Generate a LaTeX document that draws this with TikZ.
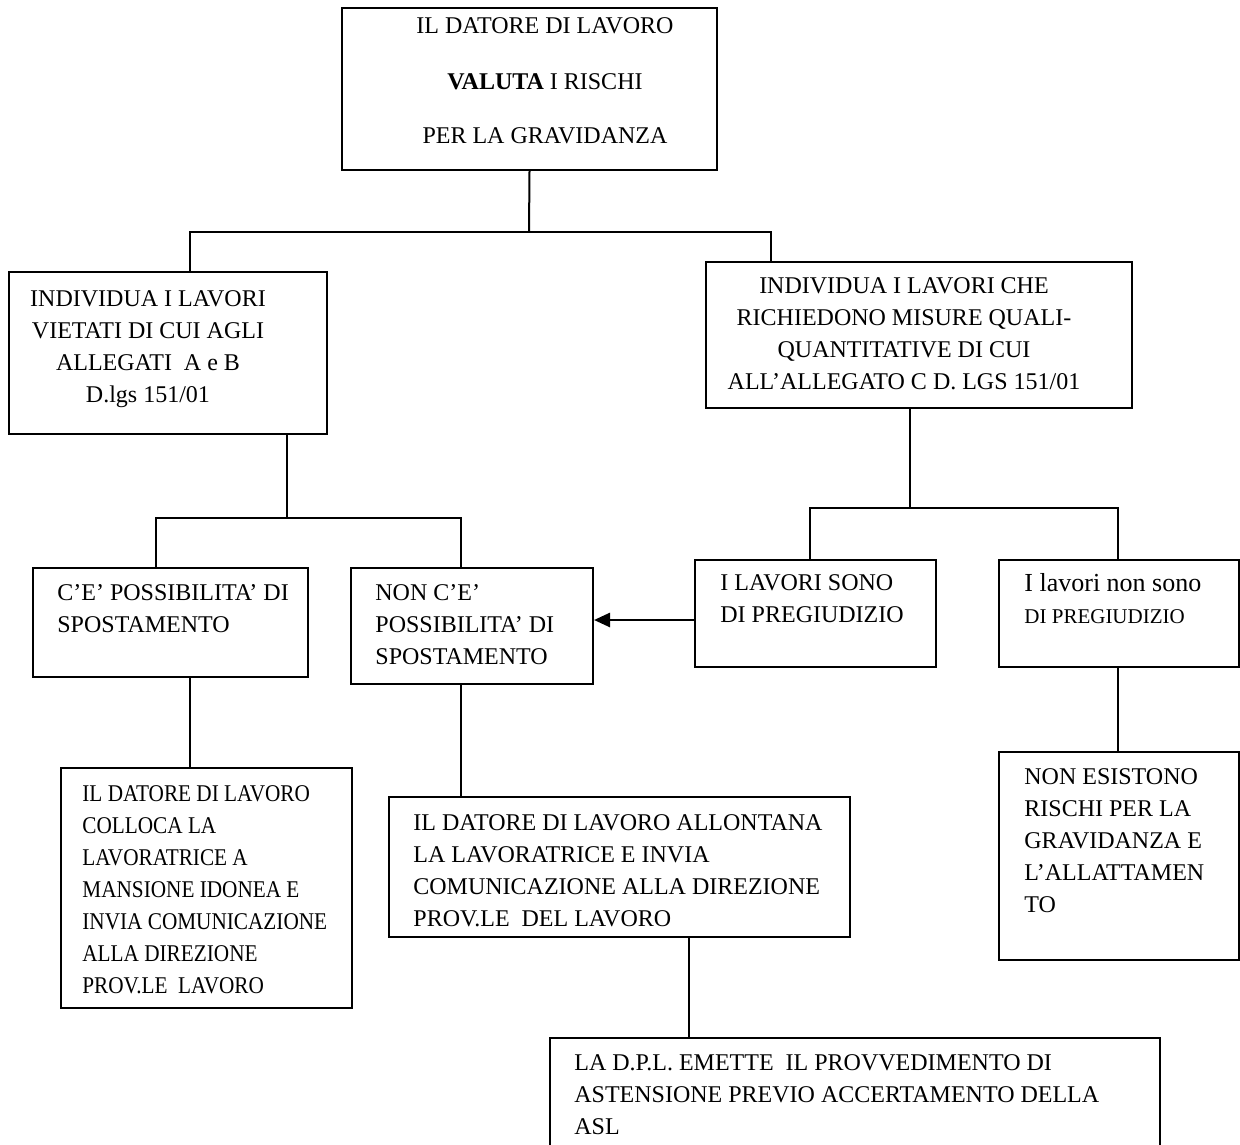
\documentclass[tikz,border=0pt]{standalone}
\usepackage{fontspec}
\setmainfont{Liberation Serif}
\newfontfamily\narrowserif{Liberation Serif}[FakeStretch=0.885]
\usepackage{tikz}
\usetikzlibrary{arrows.meta, positioning, fit}

\begin{document}
\begin{tikzpicture}[
    x=0.5pt, y=-0.5pt,
    box/.style={rectangle, draw, line width=1pt, inner sep=0pt},
    txt/.style={inner sep=0pt, align=left, anchor=north west, font=\fontsize{12}{16}\selectfont},
    ctxt/.style={txt, align=center, anchor=north},
    link/.style={line width=1pt},
    push/.style={line width=1.3pt, -{Triangle[length=8pt, width=7pt]}}
]
    \useasboundingbox (0,0) rectangle (1240,1144);

    % Valutazione dei rischi
    \node[box, fit={(342,8) (717,170)}] (valuta) {};
    \node[ctxt] (valutatxt) at (545,17) {IL DATORE DI LAVORO\\[12pt] \textbf{VALUTA} I RISCHI\\[11pt] PER LA GRAVIDANZA};

    % Lavori vietati
    \node[box, fit={(9,272) (327,434)}] (vietati) {};
    \node[ctxt] (vietatitxt) at (148,290) {INDIVIDUA I LAVORI\\ VIETATI DI CUI AGLI\\ ALLEGATI~ A e B\\ D.lgs 151/01};

    % Lavori con misure
    \node[box, fit={(706,262) (1132,408)}] (misure) {};
    \node[ctxt] (misuretxt) at (904,277) {INDIVIDUA I LAVORI CHE\\ RICHIEDONO MISURE QUALI-\\ QUANTITATIVE DI CUI\\ ALL'ALLEGATO C D. LGS 151/01};

    % Spostamento possibile
    \node[box, fit={(33,568) (308,677)}] (sposta) {};
    \node[txt] (spostatxt) at (57,584) {C'E' POSSIBILITA' DI\\ SPOSTAMENTO};

    % Spostamento non possibile
    \node[box, fit={(351,568) (593,684)}] (nosposta) {};
    \node[txt] (nospostatxt) at (375,584) {NON C'E'\\ POSSIBILITA' DI\\ SPOSTAMENTO};

    % Lavori di pregiudizio
    \node[box, fit={(695,560) (936,667)}] (pregiudizio) {};
    \node[txt] (pregiudiziotxt) at (720,574) {I LAVORI SONO\\ DI PREGIUDIZIO};

    % Lavori non di pregiudizio
    \node[box, fit={(999,560) (1239,667)}] (nopregiudizio) {};
    \node[txt] (nopregiudiziotxt) at (1024,573) {{\fontsize{13}{16}\selectfont I lavori non sono}\\ {\fontsize{10.5}{16}\selectfont DI PREGIUDIZIO}};

    % Mansione idonea
    \node[box, fit={(61,768) (352,1008)}] (colloca) {};
    \node[txt, font=\fontsize{12}{16}\narrowserif] (collocatxt) at (82,785) {IL DATORE DI LAVORO\\ COLLOCA LA\\ LAVORATRICE A\\ MANSIONE IDONEA E\\ INVIA COMUNICAZIONE\\ ALLA DIREZIONE\\ PROV.LE~ LAVORO};

    % Allontanamento
    \node[box, fit={(389,797) (850,937)}] (allontana) {};
    \node[txt] (allontanatxt) at (413,814) {IL DATORE DI LAVORO ALLONTANA\\ LA LAVORATRICE E INVIA\\ COMUNICAZIONE ALLA DIREZIONE\\ PROV.LE~ DEL LAVORO};

    % Nessun rischio
    \node[box, fit={(999,752) (1239,960)}] (norischi) {};
    \node[txt] (norischitxt) at (1024,768) {NON ESISTONO\\ RISCHI PER LA\\ GRAVIDANZA E\\ L'ALLATTAMEN\\ TO};

    % Provvedimento di astensione
    \node[box, fit={(550,1038) (1160,1170)}] (astensione) {};
    \node[txt] (astensionetxt) at (574,1054) {LA D.P.L. EMETTE~ IL PROVVEDIMENTO DI\\ ASTENSIONE PREVIO ACCERTAMENTO DELLA\\ ASL};

    % Connectors
    \coordinate (split1) at (529,232);
    \coordinate (split2) at (287,518);
    \coordinate (split3) at (910,508);
    \draw[link] (valuta.south) -- (split1);
    \draw[link] (vietati.north -| 190,0) |- (split1) -| (misure.north -| 771,0);
    \draw[link] (vietati.south -| split2) -- (split2);
    \draw[link] (sposta.north -| 156,0) |- (split2) -| (nosposta.north -| 461,0);
    \draw[link] (misure.south -| split3) -- (split3);
    \draw[link] (pregiudizio.north -| 810,0) |- (split3) -| (nopregiudizio.north -| 1118,0);
    \draw[link] (sposta.south -| 190,0) -- (colloca.north -| 190,0);
    \draw[link] (nosposta.south -| 461,0) -- (allontana.north -| 461,0);
    \draw[link] (allontana.south -| 689,0) -- (astensione.north -| 689,0);
    \draw[link] (nopregiudizio.south -| 1118,0) -- (norischi.north -| 1118,0);
    \draw[push] (pregiudizio.west |- 0,620) -- (nosposta.east |- 0,620);
\end{tikzpicture}
\end{document}
